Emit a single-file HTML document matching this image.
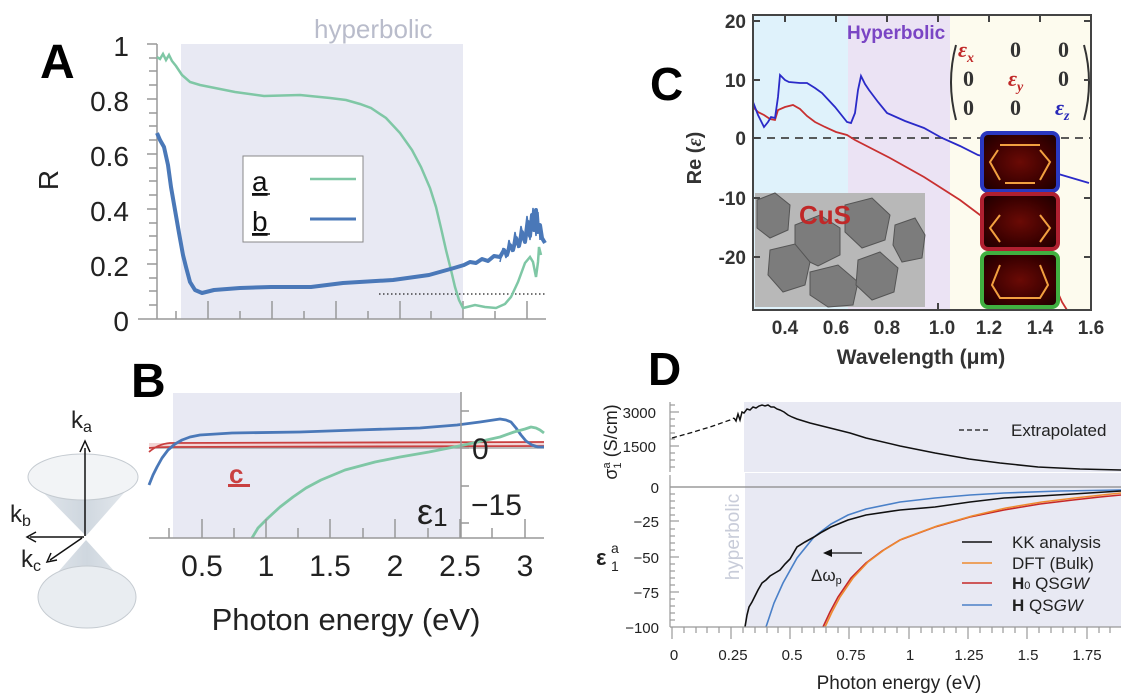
<!DOCTYPE html>
<html><head><meta charset="utf-8"><style>
html,body{margin:0;padding:0;background:#fff;}
svg{display:block;font-family:"Liberation Sans",sans-serif;}
</style></head><body>
<svg width="1127" height="700" viewBox="0 0 1127 700" xmlns="http://www.w3.org/2000/svg">
<defs>
<radialGradient id="glow" cx="50%" cy="50%" r="60%">
<stop offset="0" stop-color="#6a0a05"/><stop offset="0.7" stop-color="#3a0000"/><stop offset="1" stop-color="#250000"/>
</radialGradient>
<linearGradient id="cone" x1="0" x2="1" y1="0" y2="0">
<stop offset="0" stop-color="#e4e9ee"/><stop offset="0.5" stop-color="#cfd7df"/><stop offset="1" stop-color="#e8ecf0"/>
</linearGradient>
</defs>

<!-- ================= PANEL A ================= -->
<rect x="181" y="44" width="282" height="275" fill="#e8e9f3"/>
<text x="314" y="38" font-size="26" fill="#b9bccb">hyperbolic</text>
<text x="40" y="78" font-size="48" font-weight="bold">A</text>
<text transform="translate(58,180) rotate(-90)" font-size="28" text-anchor="middle" fill="#222">R</text>
<g stroke="#999" stroke-width="1.5">
<line x1="157" y1="44" x2="157" y2="319"/>
<line x1="138" y1="319" x2="546" y2="319"/>
<line x1="147" y1="44" x2="157" y2="44"/><line x1="147" y1="99" x2="157" y2="99"/><line x1="147" y1="154" x2="157" y2="154"/><line x1="147" y1="209" x2="157" y2="209"/><line x1="147" y1="264" x2="157" y2="264"/>
<line x1="149" y1="58" x2="157" y2="58"/><line x1="149" y1="71" x2="157" y2="71"/><line x1="149" y1="85" x2="157" y2="85"/><line x1="149" y1="113" x2="157" y2="113"/><line x1="149" y1="126" x2="157" y2="126"/><line x1="149" y1="140" x2="157" y2="140"/><line x1="149" y1="168" x2="157" y2="168"/><line x1="149" y1="181" x2="157" y2="181"/><line x1="149" y1="195" x2="157" y2="195"/><line x1="149" y1="223" x2="157" y2="223"/><line x1="149" y1="236" x2="157" y2="236"/><line x1="149" y1="250" x2="157" y2="250"/><line x1="149" y1="278" x2="157" y2="278"/><line x1="149" y1="291" x2="157" y2="291"/><line x1="149" y1="305" x2="157" y2="305"/>
<line x1="176" y1="319" x2="176" y2="311"/><line x1="208" y1="319" x2="208" y2="301"/><line x1="240" y1="319" x2="240" y2="311"/><line x1="272" y1="319" x2="272" y2="301"/><line x1="304" y1="319" x2="304" y2="311"/><line x1="336" y1="319" x2="336" y2="301"/><line x1="368" y1="319" x2="368" y2="311"/><line x1="400" y1="319" x2="400" y2="301"/><line x1="431" y1="319" x2="431" y2="311"/><line x1="463" y1="319" x2="463" y2="301"/><line x1="495" y1="319" x2="495" y2="311"/><line x1="527" y1="319" x2="527" y2="301"/>
</g>
<g font-size="28" fill="#222" text-anchor="end">
<text x="129" y="56">1</text><text x="129" y="111">0.8</text><text x="129" y="166">0.6</text><text x="129" y="221">0.4</text><text x="129" y="276">0.2</text><text x="129" y="331">0</text>
</g>
<line x1="379" y1="294" x2="545" y2="294" stroke="#222" stroke-width="1.3" stroke-dasharray="1.5,2.5"/>
<polyline fill="none" stroke="#7fc7a5" stroke-width="2.5" points="157,57 160,59 163,54 166,60 169,55 172,61 176,66 182,75 190,82 200,85 215,88 235,92 264,96 300,95 330,98 346,100 360,104 371,108 386,118 400,133 412,150 421,167 430,188 436,207 441,228 446,250 451,270 455,287 459,300 463,308 475,305 485,307 496,308 505,304 511,297 518,282 525,263 530,257 533,262 536,277 538,262 539,247 541,255"/>
<polyline fill="none" stroke="#4a78b8" stroke-width="4" stroke-linejoin="round" points="157,133 160,140 164,147 168,165 171,187 175,210 179,233 183,255 186,267 190,282 195,290 202,293 214,290 240,288 271,287 311,287 343,283 393,280 429,275 454,268 464,265 470,262 476,263 482,259 488,261 494,256 500,257 504,250 507,255 510,245 513,250 516,238 519,246 522,232 525,242 528,222 530,236 532,215 534,230 536,210 538,232 540,225 542,238 545,243"/>
<g stroke="#4a78b8" stroke-width="1.5" fill="none"><polyline points="500,262 503,248 506,258 509,240 512,252 515,232 518,248 521,226 524,240 527,216 530,240 533,208 536,236 538,212 540,240"/></g>
<rect x="243" y="156" width="120" height="86" fill="#fff" stroke="#888" stroke-width="1"/>
<text x="252" y="191" font-size="28" fill="#111" text-decoration="underline">a</text>
<text x="252" y="231" font-size="28" fill="#111" text-decoration="underline">b</text>
<line x1="252" y1="194" x2="270" y2="194" stroke="#111" stroke-width="1.5"/>
<line x1="252" y1="234" x2="270" y2="234" stroke="#111" stroke-width="1.5"/>
<line x1="310" y1="179" x2="356" y2="179" stroke="#7fc7a5" stroke-width="2.5"/>
<line x1="310" y1="219" x2="356" y2="219" stroke="#4a78b8" stroke-width="3"/>

<!-- ================= PANEL B ================= -->
<text x="131" y="397" font-size="48" font-weight="bold">B</text>
<rect x="173" y="393" width="288" height="145" fill="#e8e9f3"/>
<rect x="149" y="443" width="395" height="4" fill="#f2d5d5"/>
<line x1="149" y1="448" x2="544" y2="448" stroke="#999" stroke-width="1.2"/>
<path d="M149,452 Q158,444 170,443 L544,442" fill="none" stroke="#c94040" stroke-width="1.8"/>
<path d="M149,448 Q158,447 170,447 L544,446" fill="none" stroke="#c94040" stroke-width="1.8"/>
<polyline fill="none" stroke="#4a78b8" stroke-width="2.8" stroke-linejoin="round" points="149,485 153,475 157,467 162,458 168,450 175,444 182,440 190,437 200,435 232,433 300,432 357,430 420,428 457,425 480,422 500,419 506,420 511,422 516,428 521,435 526,441 532,445 538,447 544,447"/>
<polyline fill="none" stroke="#7fc7a5" stroke-width="2.8" stroke-linejoin="round" points="252,538 258,528 268,518 280,507 293,497 306,488 321,480 345,470 375,462 400,457 429,452 464,445 482,441 500,437 514,432 525,429 531,427 536,428 540,430 544,433"/>
<g stroke="#999" stroke-width="1.5">
<line x1="149" y1="538" x2="544" y2="538"/>
<line x1="461" y1="392" x2="461" y2="538"/>
<line x1="461" y1="411" x2="469" y2="411"/><line x1="461" y1="448" x2="469" y2="448"/><line x1="461" y1="486" x2="469" y2="486"/><line x1="461" y1="523" x2="469" y2="523"/>
<line x1="169" y1="538" x2="169" y2="528"/><line x1="202" y1="538" x2="202" y2="519"/><line x1="234" y1="538" x2="234" y2="528"/><line x1="266" y1="538" x2="266" y2="519"/><line x1="298" y1="538" x2="298" y2="528"/><line x1="330" y1="538" x2="330" y2="519"/><line x1="363" y1="538" x2="363" y2="528"/><line x1="395" y1="538" x2="395" y2="519"/><line x1="428" y1="538" x2="428" y2="528"/><line x1="460" y1="538" x2="460" y2="519"/><line x1="492" y1="538" x2="492" y2="528"/><line x1="525" y1="538" x2="525" y2="519"/>
</g>
<g font-size="30" fill="#222" text-anchor="middle">
<text x="202" y="576">0.5</text><text x="266" y="576">1</text><text x="330" y="576">1.5</text><text x="395" y="576">2</text><text x="460" y="576">2.5</text><text x="525" y="576">3</text>
</g>
<text x="472" y="459" font-size="30" fill="#222">0</text>
<text x="471" y="515" font-size="30" fill="#222">−15</text>
<text x="417" y="524" font-size="36" fill="#222">ε<tspan font-size="26" dy="2">1</tspan></text>
<text x="229" y="483" font-size="26" font-weight="bold" fill="#c94040">c</text>
<rect x="228" y="484" width="22" height="3" fill="#c94040"/>
<text x="346" y="630" font-size="31" fill="#222" text-anchor="middle">Photon energy (eV)</text>

<!-- cone diagram -->
<path d="M28,477 L86,536 L138,477 Z" fill="url(#cone)"/>
<ellipse cx="83" cy="477" rx="55" ry="23" fill="#f2f4f6" stroke="#c5cbd1" stroke-width="1"/>
<path d="M38,595 L86,540 L136,595 Z" fill="url(#cone)"/>
<ellipse cx="87" cy="597" rx="49" ry="31" fill="#e9edf1" stroke="#c5cbd1" stroke-width="1"/>
<line x1="85" y1="536" x2="85" y2="448" stroke="#111" stroke-width="1.5"/>
<path d="M80,452 L85,441 L90,452" fill="none" stroke="#111" stroke-width="1.5"/>
<line x1="84" y1="537" x2="30" y2="537" stroke="#111" stroke-width="1.5"/>
<path d="M36,532 L27,537 L36,542" fill="none" stroke="#111" stroke-width="1.5"/>
<line x1="82" y1="538" x2="50" y2="560" stroke="#111" stroke-width="1.5"/>
<path d="M51,553 L47,562 L57,560" fill="none" stroke="#111" stroke-width="1.5"/>
<text x="71" y="428" font-size="24" fill="#222">k<tspan font-size="16" dy="4">a</tspan></text>
<text x="10" y="522" font-size="24" fill="#222">k<tspan font-size="16" dy="4">b</tspan></text>
<text x="21" y="567" font-size="24" fill="#222">k<tspan font-size="16" dy="4">c</tspan></text>

<!-- ================= PANEL C ================= -->
<text x="650" y="100" font-size="46" font-weight="bold">C</text>
<rect x="753" y="15" width="95" height="295" fill="#dff2fb"/>
<rect x="848" y="15" width="102" height="295" fill="#ebe3f4"/>
<rect x="950" y="15" width="141" height="295" fill="#fdfbee"/>
<text x="847" y="39" font-size="19" font-weight="bold" fill="#7a45c4">Hyperbolic</text>
<!-- matrix -->
<path d="M956,45 Q946,82 956,120" fill="none" stroke="#333" stroke-width="2"/>
<path d="M1084,45 Q1094,82 1084,120" fill="none" stroke="#333" stroke-width="2"/>
<g font-family="Liberation Serif,serif" font-weight="bold" font-size="22">
<text x="958" y="57" fill="#c02828" font-style="italic">ε<tspan font-size="14" dy="5">x</tspan></text>
<text x="1010" y="57" fill="#333">0</text><text x="1058" y="57" fill="#333">0</text>
<text x="963" y="86" fill="#333">0</text><text x="1008" y="86" fill="#c02828" font-style="italic">ε<tspan font-size="14" dy="5">y</tspan></text><text x="1058" y="86" fill="#333">0</text>
<text x="963" y="115" fill="#333">0</text><text x="1010" y="115" fill="#333">0</text><text x="1055" y="115" fill="#2828b8" font-style="italic">ε<tspan font-size="14" dy="5">z</tspan></text>
</g>
<line x1="753" y1="138" x2="1091" y2="138" stroke="#444" stroke-width="1.8" stroke-dasharray="8,6"/>
<polyline fill="none" stroke="#c83030" stroke-width="1.8" points="753,107 758,112 764,115 770,119 775,120 778,110 785,107 793,105 800,109 807,116 815,122 825,127 836,132 847,135 855,140 890,158 924,177 960,200 996,227 1033,250 1050,275 1062,302 1067,310"/>
<polyline fill="none" stroke="#2a2ac8" stroke-width="1.8" points="753,102 758,115 764,127 768,122 771,117 775,118 778,97 780,75 785,80 789,82 800,83 807,83 815,88 822,93 835,107 847,122 851,123 855,113 858,90 861,76 865,84 869,90 878,102 887,113 905,121 924,128 942,138 960,146 978,155 1020,165 1055,173 1089,183"/>
<!-- TEM inset -->
<rect x="755" y="193" width="170" height="114" fill="#b8b8b8"/>
<g fill="#7c7c7c" stroke="#555" stroke-width="1">
<polygon points="757,200 775,193 790,205 788,230 770,238 757,228"/>
<polygon points="795,225 820,215 840,228 840,255 818,266 795,255"/>
<polygon points="845,205 872,198 890,215 885,240 862,248 845,232"/>
<polygon points="770,250 795,244 810,262 805,285 783,292 768,275"/>
<polygon points="810,272 838,265 858,282 853,305 828,307 810,295"/>
<polygon points="858,260 880,252 898,268 894,292 872,300 856,285"/>
<polygon points="895,225 915,218 925,235 922,258 902,262 893,245"/>
</g>
<text x="799" y="224" font-size="26" font-weight="bold" fill="#c02828">CuS</text>
<!-- field insets -->
<g>
<rect x="982" y="133" width="76" height="58" rx="6" fill="url(#glow)" stroke="#2a38c0" stroke-width="4"/>
<path d="M1000,145 L1040,145 M998,150 L990,162 L1000,180 M1040,150 L1050,162 L1040,180 M1005,183 L1035,183" fill="none" stroke="#f2a040" stroke-width="2"/>
<rect x="982" y="194" width="76" height="55" rx="6" fill="url(#glow)" stroke="#b02030" stroke-width="4"/>
<path d="M1000,215 L990,228 L1000,242 M1040,215 L1050,228 L1040,242" fill="none" stroke="#f2a040" stroke-width="2"/>
<rect x="982" y="253" width="76" height="54" rx="6" fill="url(#glow)" stroke="#40b040" stroke-width="4"/>
<path d="M1000,265 L992,285 L1000,298 L1040,298 L1048,285 L1040,265" fill="none" stroke="#f2a040" stroke-width="2"/>
</g>
<rect x="753" y="15" width="338" height="295" fill="none" stroke="#444" stroke-width="2"/>
<g stroke="#444" stroke-width="2">
<line x1="753" y1="21" x2="760" y2="21"/><line x1="753" y1="80" x2="760" y2="80"/><line x1="753" y1="138" x2="760" y2="138"/><line x1="753" y1="198" x2="760" y2="198"/><line x1="753" y1="257" x2="760" y2="257"/>
<line x1="1091" y1="21" x2="1084" y2="21"/><line x1="1091" y1="80" x2="1084" y2="80"/><line x1="1091" y1="198" x2="1084" y2="198"/><line x1="1091" y1="257" x2="1084" y2="257"/>
<line x1="785" y1="15" x2="785" y2="22"/><line x1="836" y1="15" x2="836" y2="22"/><line x1="887" y1="15" x2="887" y2="22"/><line x1="938" y1="15" x2="938" y2="22"/><line x1="989" y1="15" x2="989" y2="22"/><line x1="1040" y1="15" x2="1040" y2="22"/>
<line x1="938" y1="310" x2="938" y2="303"/>
</g>
<g font-size="19" font-weight="bold" fill="#333" text-anchor="end">
<text x="746" y="28">20</text><text x="746" y="87">10</text><text x="746" y="145">0</text><text x="746" y="205">-10</text><text x="746" y="264">-20</text>
</g>
<g font-size="19" font-weight="bold" fill="#333" text-anchor="middle">
<text x="785" y="334">0.4</text><text x="836" y="334">0.6</text><text x="887" y="334">0.8</text><text x="942" y="334">1.0</text><text x="989" y="334">1.2</text><text x="1040" y="334">1.4</text><text x="1091" y="334">1.6</text>
</g>
<text transform="translate(701,158) rotate(-90)" font-size="20" font-weight="bold" fill="#333" text-anchor="middle">Re (<tspan font-family="Liberation Serif,serif" font-style="italic">ε</tspan>)</text>
<text x="921" y="364" font-size="21" font-weight="bold" fill="#333" text-anchor="middle">Wavelength (μm)</text>

<!-- ================= PANEL D ================= -->
<text x="648" y="385" font-size="46" font-weight="bold">D</text>
<rect x="744" y="402" width="377" height="70" fill="#e8e9f3"/>
<rect x="745" y="473" width="376" height="154" fill="#e8e9f3"/>
<text transform="translate(739,537) rotate(-90)" font-size="19" fill="#c8ccd9" text-anchor="middle">hyperbolic</text>
<line x1="670" y1="487" x2="1121" y2="487" stroke="#888" stroke-width="1.2"/>
<!-- sigma curve -->
<polyline fill="none" stroke="#111" stroke-width="1.3" stroke-dasharray="5,3" points="672,438 690,433 710,427 730,420 734,418"/>
<polyline fill="none" stroke="#111" stroke-width="1.5" points="734,418 736,421 738,414 740,420 742,412 744,413 747,409 750,410 753,407 756,408 759,406 762,405 765,406 768,405 771,407 774,407 777,409 780,410 784,412 788,415 792,417 797,419 810,423 830,428 850,433 866,438 900,446 935,453 969,459 1000,463 1038,467 1080,469 1121,470"/>
<line x1="959" y1="430" x2="988" y2="430" stroke="#111" stroke-width="1.3" stroke-dasharray="5,3"/>
<text x="1011" y="436" font-size="17" fill="#222">Extrapolated</text>
<!-- epsilon curves -->
<polyline fill="none" stroke="#c62828" stroke-width="1.6" points="823,627 830,612 838,597 851,578 866,563 882,551 900,540 935,527 970,517 1004,510 1040,504 1073,500 1100,497 1121,495"/>
<polyline fill="none" stroke="#ee8a30" stroke-width="1.6" points="825,627 832,612 840,597 853,578 868,562 884,550 902,539 937,526 972,516 1006,508 1042,502 1075,498 1102,495 1121,493"/>
<polyline fill="none" stroke="#4a80c8" stroke-width="1.6" points="766,627 774,603 783,583 797,558 814,537 831,524 848,515 866,509 900,502 935,498 970,495 1004,493 1060,491 1121,490"/>
<polyline fill="none" stroke="#111" stroke-width="1.6" points="745,627 747,615 749,607 752,602 755,596 758,590 762,583 766,580 770,576 775,573 780,570 785,564 790,559 797,547 805,542 814,537 822,532 831,527 848,520 866,515 900,510 935,507 970,502 1004,498 1040,496 1073,494 1121,491"/>
<line x1="862" y1="553" x2="828" y2="553" stroke="#111" stroke-width="1.3"/>
<path d="M832,549 L823,553 L832,557 Z" fill="#111"/>
<text x="811" y="581" font-size="17" fill="#222">Δω<tspan font-size="11" dy="3">p</tspan></text>
<!-- legend -->
<line x1="962" y1="542" x2="992" y2="542" stroke="#111" stroke-width="1.6"/>
<line x1="962" y1="563" x2="992" y2="563" stroke="#ee8a30" stroke-width="1.6"/>
<line x1="962" y1="583" x2="992" y2="583" stroke="#c62828" stroke-width="1.6"/>
<line x1="962" y1="605" x2="992" y2="605" stroke="#4a80c8" stroke-width="1.6"/>
<g font-size="17" fill="#222">
<text x="1012" y="548">KK analysis</text>
<text x="1012" y="569">DFT (Bulk)</text>
<text x="1012" y="589"><tspan font-weight="bold">H</tspan><tspan font-size="11">0</tspan> QS<tspan font-style="italic">GW</tspan></text>
<text x="1012" y="611"><tspan font-weight="bold">H</tspan> QS<tspan font-style="italic">GW</tspan></text>
</g>
<!-- axes D -->
<g stroke="#999" stroke-width="1.2">
<line x1="670" y1="402" x2="670" y2="472"/>
<line x1="670" y1="475" x2="670" y2="627"/>
<line x1="670" y1="627" x2="1121" y2="627"/>
<line x1="670" y1="412" x2="679" y2="412"/><line x1="670" y1="446" x2="679" y2="446"/>
<line x1="670" y1="405" x2="675" y2="405"/><line x1="670" y1="419" x2="675" y2="419"/><line x1="670" y1="426" x2="675" y2="426"/><line x1="670" y1="433" x2="675" y2="433"/><line x1="670" y1="439" x2="675" y2="439"/><line x1="670" y1="453" x2="675" y2="453"/><line x1="670" y1="460" x2="675" y2="460"/><line x1="670" y1="467" x2="675" y2="467"/>
<line x1="670" y1="521" x2="679" y2="521"/><line x1="670" y1="557" x2="679" y2="557"/><line x1="670" y1="592" x2="679" y2="592"/>
<line x1="670" y1="494" x2="675" y2="494"/><line x1="670" y1="501" x2="675" y2="501"/><line x1="670" y1="508" x2="675" y2="508"/><line x1="670" y1="515" x2="675" y2="515"/><line x1="670" y1="529" x2="675" y2="529"/><line x1="670" y1="536" x2="675" y2="536"/><line x1="670" y1="543" x2="675" y2="543"/><line x1="670" y1="550" x2="675" y2="550"/><line x1="670" y1="564" x2="675" y2="564"/><line x1="670" y1="571" x2="675" y2="571"/><line x1="670" y1="578" x2="675" y2="578"/><line x1="670" y1="585" x2="675" y2="585"/><line x1="670" y1="599" x2="675" y2="599"/><line x1="670" y1="606" x2="675" y2="606"/><line x1="670" y1="613" x2="675" y2="613"/><line x1="670" y1="620" x2="675" y2="620"/>
<line x1="672" y1="627" x2="672" y2="639"/><line x1="731" y1="627" x2="731" y2="639"/><line x1="790" y1="627" x2="790" y2="639"/><line x1="849" y1="627" x2="849" y2="639"/><line x1="909" y1="627" x2="909" y2="639"/><line x1="968" y1="627" x2="968" y2="639"/><line x1="1027" y1="627" x2="1027" y2="639"/><line x1="1087" y1="627" x2="1087" y2="639"/>
<line x1="684" y1="627" x2="684" y2="633"/><line x1="696" y1="627" x2="696" y2="633"/><line x1="707" y1="627" x2="707" y2="633"/><line x1="719" y1="627" x2="719" y2="633"/><line x1="743" y1="627" x2="743" y2="633"/><line x1="755" y1="627" x2="755" y2="633"/><line x1="767" y1="627" x2="767" y2="633"/><line x1="778" y1="627" x2="778" y2="633"/><line x1="802" y1="627" x2="802" y2="633"/><line x1="814" y1="627" x2="814" y2="633"/><line x1="826" y1="627" x2="826" y2="633"/><line x1="838" y1="627" x2="838" y2="633"/><line x1="861" y1="627" x2="861" y2="633"/><line x1="873" y1="627" x2="873" y2="633"/><line x1="885" y1="627" x2="885" y2="633"/><line x1="897" y1="627" x2="897" y2="633"/><line x1="921" y1="627" x2="921" y2="633"/><line x1="932" y1="627" x2="932" y2="633"/><line x1="944" y1="627" x2="944" y2="633"/><line x1="956" y1="627" x2="956" y2="633"/><line x1="980" y1="627" x2="980" y2="633"/><line x1="992" y1="627" x2="992" y2="633"/><line x1="1003" y1="627" x2="1003" y2="633"/><line x1="1015" y1="627" x2="1015" y2="633"/><line x1="1039" y1="627" x2="1039" y2="633"/><line x1="1051" y1="627" x2="1051" y2="633"/><line x1="1063" y1="627" x2="1063" y2="633"/><line x1="1075" y1="627" x2="1075" y2="633"/><line x1="1099" y1="627" x2="1099" y2="633"/><line x1="1110" y1="627" x2="1110" y2="633"/>
</g>
<g font-size="15" fill="#222" text-anchor="end">
<text x="656" y="418">3000</text><text x="656" y="452">1500</text>
<text x="659" y="493">0</text><text x="659" y="527">−25</text><text x="659" y="563">−50</text><text x="659" y="598">−75</text><text x="659" y="633">−100</text>
</g>
<g font-size="15" fill="#222" text-anchor="middle">
<text x="674" y="660">0</text><text x="733" y="660">0.25</text><text x="792" y="660">0.5</text><text x="851" y="660">0.75</text><text x="910" y="660">1</text><text x="969" y="660">1.25</text><text x="1028" y="660">1.5</text><text x="1087" y="660">1.75</text>
</g>
<text x="899" y="689" font-size="19" fill="#222" text-anchor="middle">Photon energy (eV)</text>
<text transform="translate(617,442) rotate(-90)" font-size="18" fill="#222" text-anchor="middle">σ<tspan font-size="11" dy="4">1</tspan><tspan font-size="11" dx="-6" dy="-11">a</tspan><tspan dy="7"> (S/cm)</tspan></text>
<text x="596" y="565" font-size="22" font-weight="bold" fill="#222">ε</text>
<text x="611" y="571" font-size="14" fill="#222">1</text>
<text x="611" y="553" font-size="14" fill="#222">a</text>
</svg>
</body></html>
